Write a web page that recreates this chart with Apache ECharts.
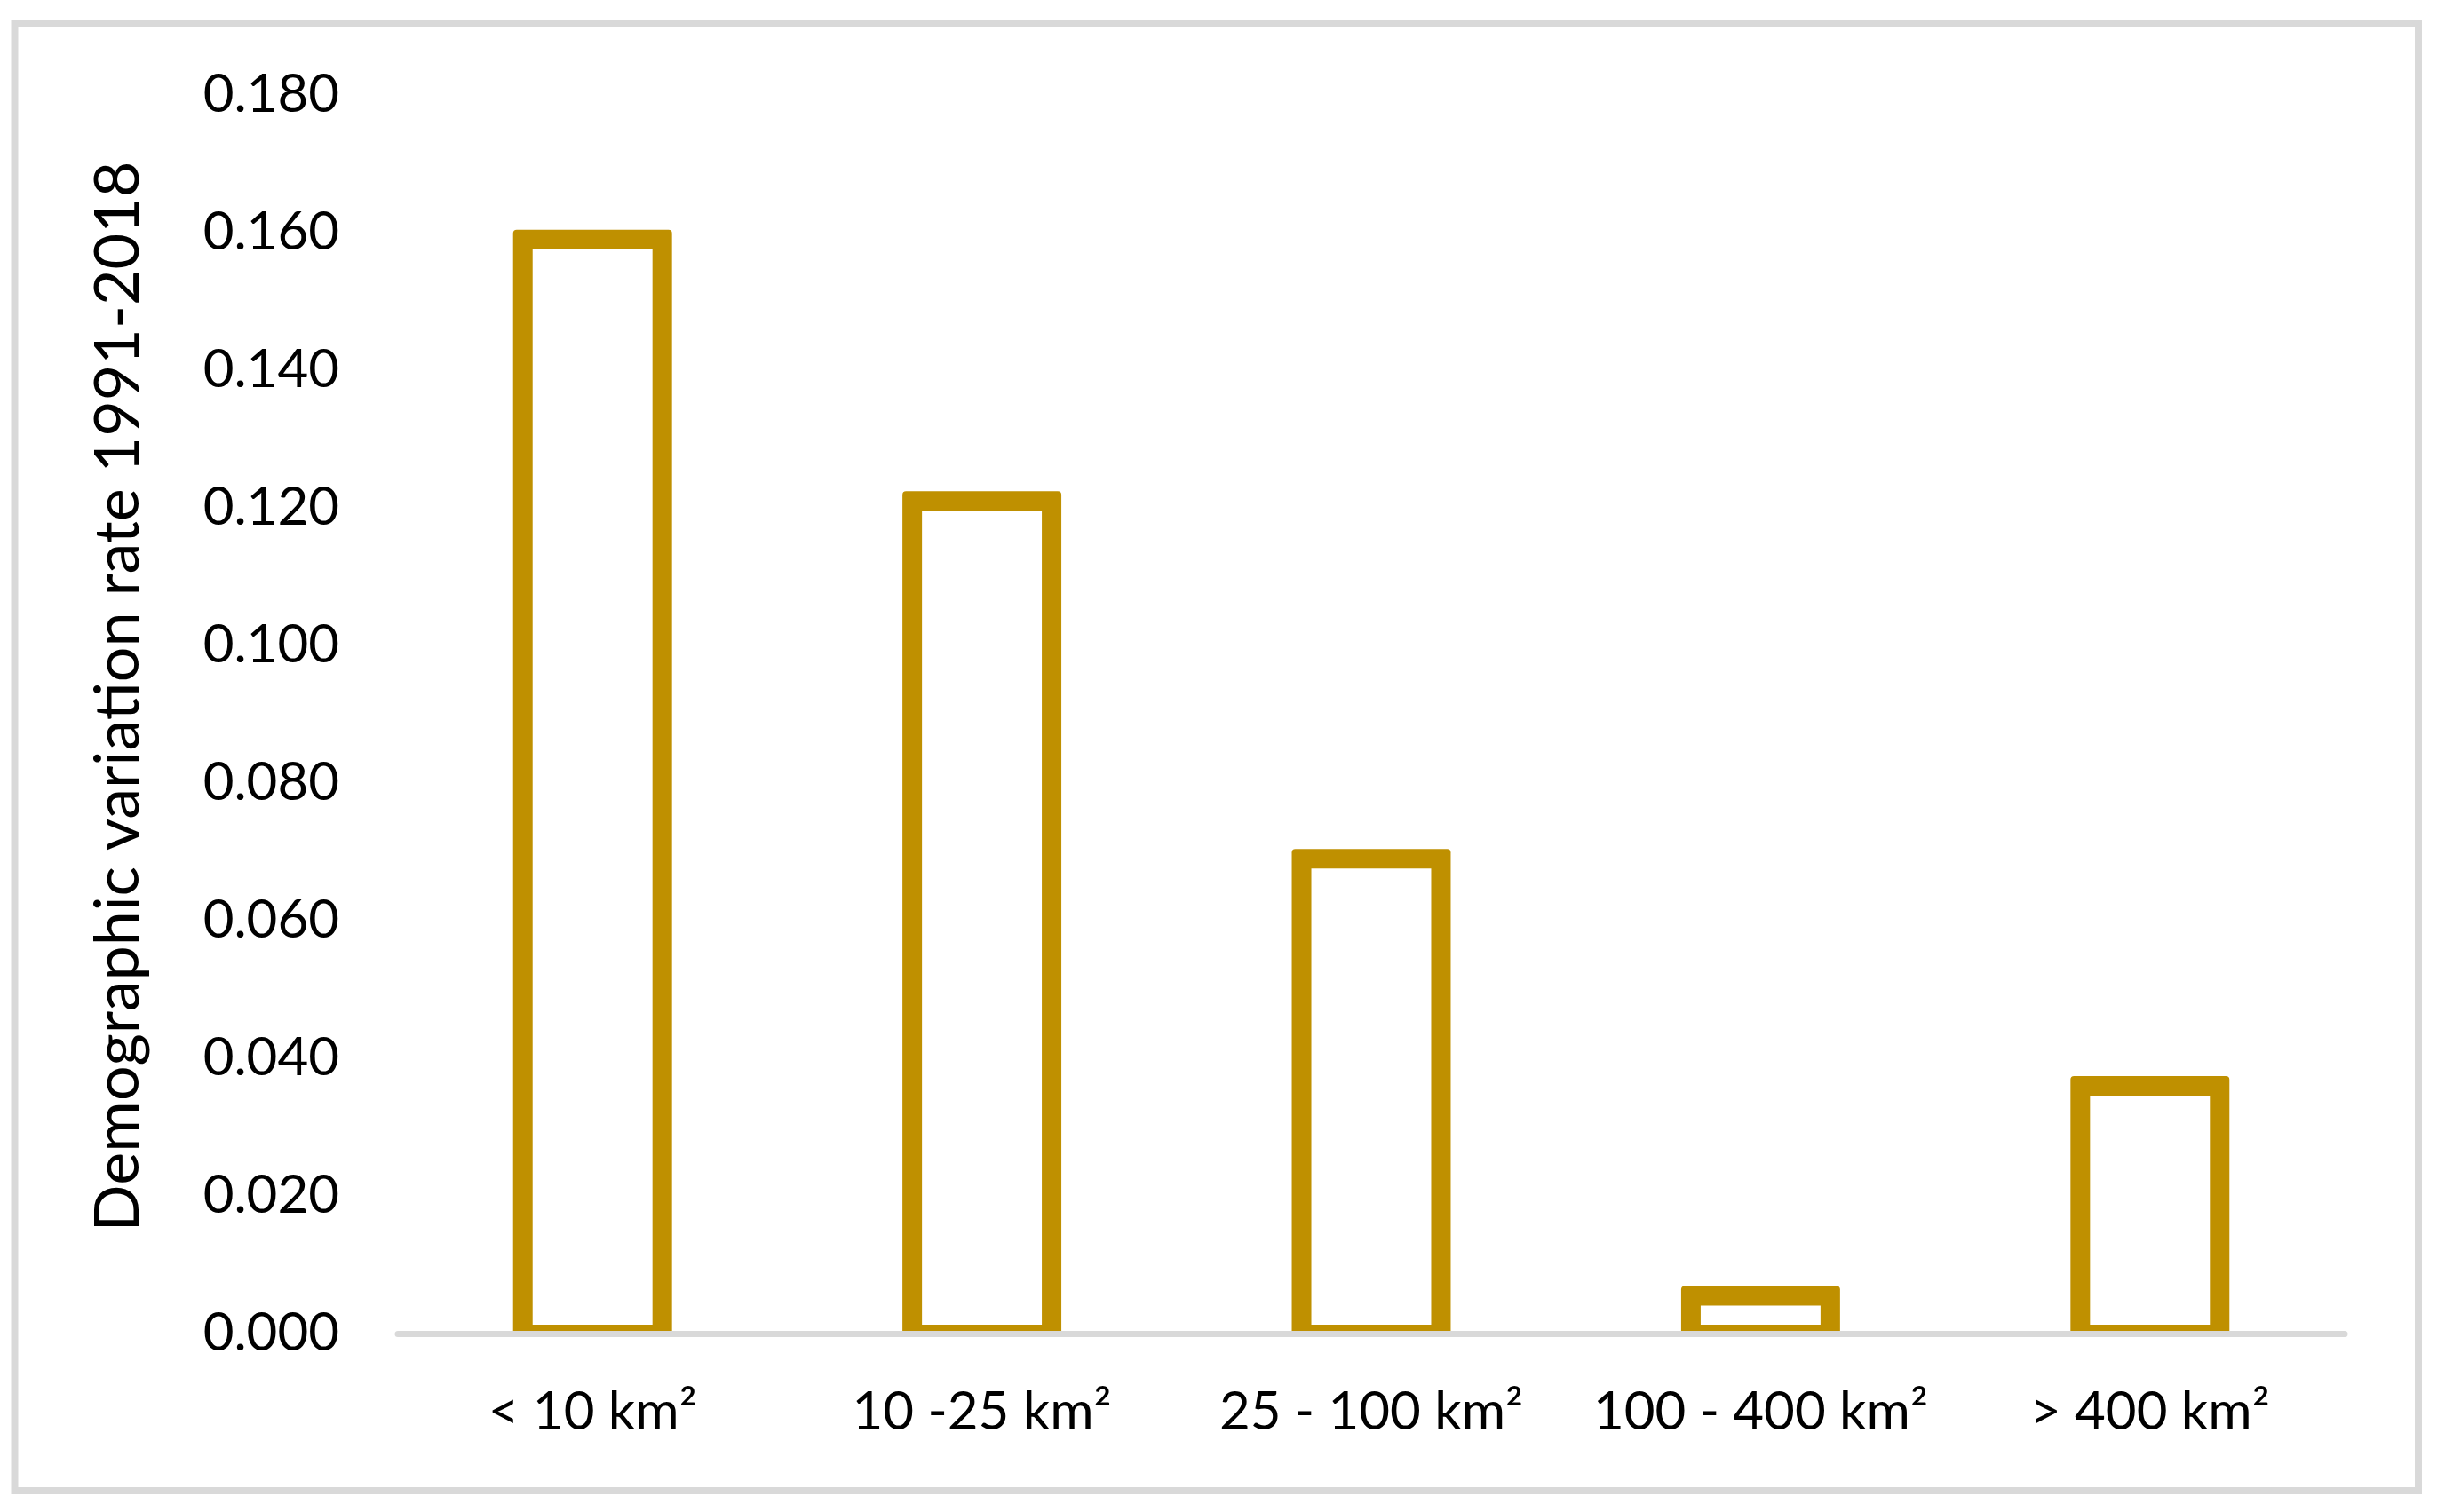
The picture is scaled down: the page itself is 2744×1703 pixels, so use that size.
<!DOCTYPE html>
<html>
<head>
<meta charset="utf-8">
<script src="https://cdn.jsdelivr.net/npm/echarts@6/dist/echarts.min.js"></script>
<style>
  html, body { margin: 0; padding: 0; background: #ffffff; }
  #chart { width: 2744px; height: 1703px; }
</style>
</head>
<body>
<div id="chart"></div>
<script>
// ---- data ----
const categories = ['< 10 km²', '10 -25 km²', '25 - 100 km²', '100 - 400 km²', '> 400 km²'];
const values = [0.159, 0.121, 0.069, 0.0055, 0.036];
const yTicks = { min: 0, max: 0.18, interval: 0.02 };
const yTitle = 'Demographic variation rate 1991-2018';

const GOLD = '#bf9000';
const FONT = 'Lato';

const chart = echarts.init(document.getElementById('chart'), null, { renderer: 'canvas' });

const option = {
  backgroundColor: '#ffffff',
  animation: false,
  graphic: [{
    type: 'rect',
    shape: { x: 16.5, y: 26, width: 2706.5, height: 1653 },
    style: { fill: 'none', stroke: '#d9d9d9', lineWidth: 8 },
    silent: true, z: -1
  }],
  grid: { left: 448, right: 104, top: 107, bottom: 201, containLabel: false },
  xAxis: {
    type: 'category',
    data: categories,
    z: 5,
    axisLine: { show: true, lineStyle: { color: '#d9d9d9', width: 7 } },
    axisTick: { show: false },
    axisLabel: { color: '#000', fontFamily: FONT, fontSize: 60, margin: 59, interval: 0, hideOverlap: false },
    splitLine: { show: false }
  },
  yAxis: {
    type: 'value',
    min: yTicks.min, max: yTicks.max, interval: yTicks.interval,
    axisLine: { show: false },
    axisTick: { show: false },
    splitLine: { show: false },
    axisLabel: {
      color: '#000', fontFamily: FONT, fontSize: 60, margin: 66,
      formatter: v => v.toFixed(3)
    },
    name: yTitle,
    nameLocation: 'middle',
    nameRotate: 90,
    nameGap: 280,
    nameTextStyle: { color: '#000', fontFamily: FONT, fontSize: 70, padding: [0, 0, 0, 40] }
  },
  series: [{
    type: 'custom',
    data: values.map((v, i) => [i, v]),
    encode: { x: 0, y: 1 },
    renderItem: function (params, api) {
      const idx = api.value(0);
      const v = api.value(1);
      const top = api.coord([idx, v]);
      const base = api.coord([idx, 0]);
      const band = api.size([1, 0])[0];
      const w = band * 0.358;
      const h = 11;
      const L = top[0] - w / 2;
      const T = top[1];
      const y0 = base[1];
      return {
        type: 'group',
        children: [
          { type: 'rect',
            shape: { x: L - h, y: T - h, width: w + 2 * h, height: y0 - (T - h), r: [4, 4, 0, 0] },
            style: { fill: GOLD } },
          { type: 'rect',
            shape: { x: L + h, y: T + h, width: w - 2 * h, height: Math.max(0, (y0 - 10) - (T + h)) },
            style: { fill: '#ffffff' } }
        ]
      };
    }
  }]
};

chart.setOption(option);
</script>
</body>
</html>
